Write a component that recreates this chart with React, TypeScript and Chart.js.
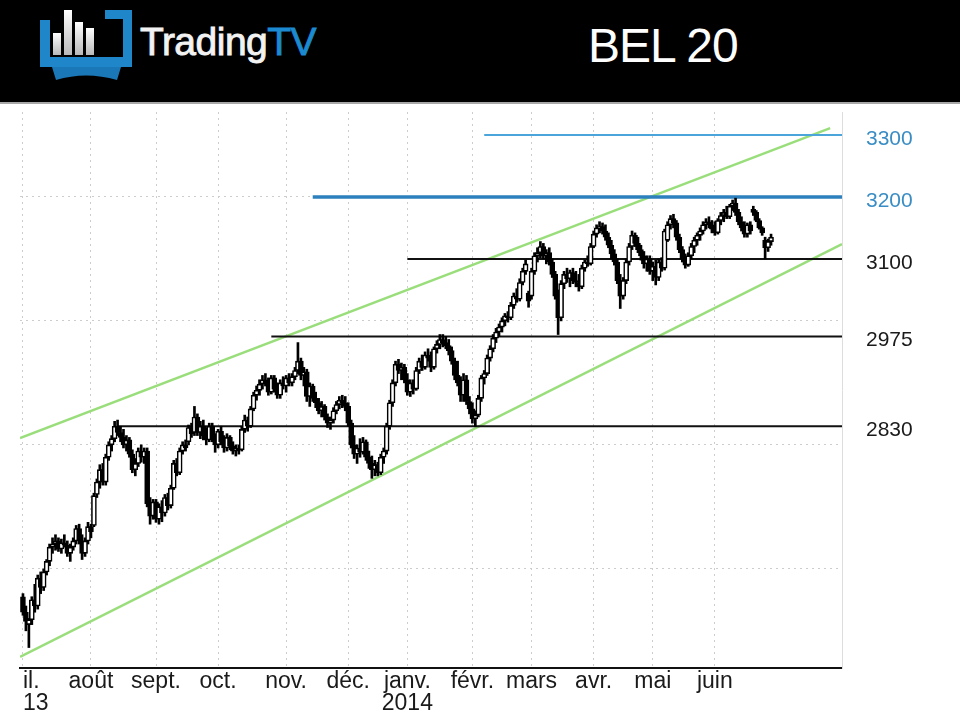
import React, { useEffect, useRef } from "react";
import { Chart, registerables } from "chart.js";

Chart.register(...registerables);

// ---- data ----
// trading-day index of each month start (July 2013 -> June 2014)
const monthTicks = [0, 23, 45, 66, 89, 110, 130, 152, 172, 193, 213, 234];
const monthLabels: string[][] = [
  ["il.", "13"], ["août"], ["sept."], ["oct."], ["nov."], ["déc."],
  ["janv.", "2014"], ["févr."], ["mars"], ["avr."], ["mai"], ["juin"],
];
const priceLabels = [2830, 2975, 3100, 3200, 3300];
const gridValues = [2600, 2800, 3000, 3200];

// horizontal levels and the trading-day index where each starts
const levelValues = [3300, 3200, 3100, 2975, 2830];
const levelStarts = [156, 98, 130, 84, 32];

// channel lines: [dayIndex, value]
const upperChannel: [number, number][] = [[-1, 2811], [273, 3311]];
const lowerChannel: [number, number][] = [[-1, 2458], [277, 3124]];

// daily candles [open, high, low, close]
const ohlc: [number, number, number, number][] = [
  [2555, 2560, 2525, 2530], [2530, 2540, 2500, 2515], [2510, 2520, 2473, 2518], [2518, 2555, 2510, 2550],
  [2550, 2575, 2530, 2540], [2540, 2590, 2535, 2585], [2585, 2595, 2560, 2570], [2570, 2600, 2565, 2595],
  [2595, 2615, 2590, 2612], [2612, 2640, 2605, 2635], [2635, 2650, 2625, 2640], [2640, 2655, 2630, 2645],
  [2645, 2650, 2628, 2632], [2632, 2648, 2625, 2642], [2642, 2655, 2635, 2638], [2638, 2645, 2620, 2625],
  [2625, 2640, 2612, 2635], [2635, 2650, 2630, 2645], [2645, 2670, 2640, 2665], [2665, 2672, 2640, 2645],
  [2645, 2655, 2615, 2625], [2625, 2650, 2620, 2645], [2645, 2675, 2640, 2668], [2668, 2672, 2650, 2660],
  [2670, 2722, 2668, 2718], [2720, 2745, 2715, 2740], [2740, 2768, 2730, 2760], [2760, 2770, 2735, 2740],
  [2740, 2785, 2735, 2780], [2780, 2805, 2775, 2800], [2800, 2815, 2790, 2810], [2810, 2838, 2805, 2830],
  [2830, 2840, 2815, 2820], [2820, 2830, 2805, 2812], [2812, 2825, 2795, 2800], [2800, 2815, 2790, 2808],
  [2808, 2812, 2780, 2785], [2785, 2792, 2755, 2760], [2760, 2778, 2750, 2770], [2770, 2795, 2765, 2790],
  [2790, 2800, 2772, 2780], [2780, 2795, 2770, 2790], [2790, 2795, 2700, 2705], [2705, 2715, 2672, 2685],
  [2685, 2712, 2680, 2708], [2708, 2712, 2675, 2680], [2680, 2705, 2672, 2700], [2700, 2710, 2676, 2690],
  [2690, 2720, 2685, 2715], [2715, 2722, 2695, 2702], [2702, 2735, 2698, 2730], [2730, 2775, 2728, 2770],
  [2770, 2778, 2750, 2755], [2755, 2795, 2752, 2790], [2790, 2805, 2785, 2800], [2800, 2808, 2790, 2795],
  [2805, 2832, 2800, 2828], [2828, 2835, 2812, 2818], [2820, 2862, 2815, 2845], [2845, 2850, 2815, 2820],
  [2820, 2838, 2810, 2830], [2830, 2840, 2808, 2815], [2815, 2828, 2800, 2808], [2808, 2835, 2805, 2830],
  [2830, 2835, 2805, 2810], [2810, 2818, 2788, 2800], [2800, 2825, 2795, 2822], [2822, 2830, 2800, 2805],
  [2805, 2815, 2788, 2795], [2795, 2818, 2790, 2812], [2812, 2815, 2792, 2798], [2798, 2805, 2785, 2790],
  [2790, 2800, 2782, 2795], [2795, 2800, 2785, 2792], [2792, 2830, 2790, 2825], [2825, 2848, 2820, 2840],
  [2840, 2845, 2822, 2830], [2830, 2862, 2828, 2858], [2858, 2885, 2855, 2880], [2880, 2895, 2872, 2888],
  [2888, 2905, 2880, 2898], [2898, 2912, 2890, 2905], [2905, 2915, 2895, 2900], [2900, 2908, 2880, 2885],
  [2885, 2912, 2882, 2908], [2908, 2912, 2885, 2890], [2890, 2900, 2875, 2880], [2880, 2905, 2875, 2900],
  [2900, 2910, 2890, 2895], [2895, 2912, 2885, 2908], [2908, 2915, 2895, 2900], [2900, 2915, 2895, 2910],
  [2910, 2925, 2905, 2920], [2920, 2965, 2915, 2935], [2935, 2940, 2905, 2912], [2912, 2925, 2895, 2918],
  [2918, 2922, 2870, 2878], [2878, 2900, 2862, 2895], [2895, 2898, 2870, 2875], [2875, 2885, 2860, 2868],
  [2868, 2875, 2850, 2855], [2855, 2870, 2845, 2862], [2862, 2865, 2840, 2845], [2845, 2850, 2828, 2835],
  [2835, 2845, 2825, 2840], [2840, 2860, 2835, 2855], [2855, 2870, 2850, 2865], [2865, 2878, 2858, 2872],
  [2872, 2880, 2860, 2868], [2868, 2878, 2855, 2862], [2862, 2868, 2830, 2835], [2835, 2840, 2795, 2800],
  [2800, 2815, 2778, 2785], [2785, 2800, 2770, 2795], [2795, 2810, 2780, 2788], [2788, 2812, 2785, 2805],
  [2805, 2808, 2775, 2780], [2780, 2790, 2762, 2770], [2770, 2782, 2746, 2760], [2760, 2775, 2750, 2768],
  [2768, 2772, 2750, 2755], [2755, 2785, 2752, 2780], [2780, 2795, 2770, 2790], [2790, 2835, 2785, 2830],
  [2830, 2872, 2825, 2868], [2868, 2905, 2862, 2900], [2900, 2935, 2895, 2930], [2930, 2938, 2915, 2920],
  [2920, 2932, 2905, 2925], [2925, 2930, 2900, 2905], [2905, 2915, 2880, 2885], [2885, 2905, 2878, 2900],
  [2900, 2905, 2882, 2890], [2890, 2925, 2888, 2920], [2920, 2940, 2915, 2935], [2935, 2945, 2920, 2925],
  [2925, 2950, 2922, 2945], [2945, 2955, 2935, 2940], [2945, 2950, 2918, 2925], [2925, 2958, 2922, 2955],
  [2955, 2968, 2948, 2962], [2962, 2978, 2955, 2970], [2970, 2978, 2958, 2965], [2965, 2975, 2955, 2960],
  [2960, 2970, 2945, 2952], [2952, 2958, 2930, 2935], [2935, 2940, 2905, 2912], [2912, 2935, 2895, 2900],
  [2900, 2910, 2870, 2880], [2880, 2915, 2870, 2905], [2905, 2912, 2865, 2870], [2870, 2878, 2850, 2858],
  [2858, 2868, 2835, 2842], [2842, 2855, 2830, 2848], [2848, 2880, 2845, 2875], [2875, 2912, 2870, 2908],
  [2908, 2920, 2898, 2915], [2915, 2945, 2912, 2940], [2940, 2960, 2935, 2955], [2955, 2978, 2950, 2972],
  [2972, 2988, 2965, 2982], [2982, 2995, 2975, 2990], [2990, 3005, 2982, 3000], [3000, 3012, 2992, 3008],
  [3008, 3015, 2998, 3005], [3005, 3030, 3002, 3025], [3025, 3045, 3020, 3040], [3040, 3052, 3030, 3035],
  [3035, 3068, 3032, 3062], [3062, 3085, 3058, 3080], [3080, 3098, 3075, 3092], [3045, 3048, 3022, 3032],
  [3040, 3085, 3035, 3080], [3080, 3110, 3075, 3105], [3105, 3118, 3095, 3110], [3110, 3128, 3102, 3120],
  [3120, 3125, 3100, 3105], [3105, 3115, 3092, 3110], [3110, 3118, 3090, 3095], [3095, 3100, 3070, 3075],
  [3075, 3080, 3035, 3040], [3040, 3050, 2978, 3005], [3005, 3065, 3000, 3060], [3060, 3080, 3052, 3075],
  [3075, 3085, 3062, 3068], [3068, 3082, 3055, 3078], [3078, 3085, 3060, 3065], [3065, 3080, 3055, 3062],
  [3062, 3075, 3048, 3055], [3055, 3090, 3052, 3085], [3085, 3098, 3080, 3095], [3095, 3105, 3088, 3092],
  [3092, 3125, 3090, 3120], [3120, 3145, 3118, 3140], [3140, 3155, 3135, 3150], [3150, 3160, 3142, 3152],
  [3152, 3158, 3140, 3145], [3145, 3155, 3130, 3135], [3135, 3142, 3118, 3122], [3122, 3130, 3100, 3108],
  [3108, 3115, 3090, 3095], [3095, 3100, 3060, 3065], [3065, 3075, 3020, 3040], [3040, 3070, 3035, 3065],
  [3065, 3100, 3060, 3095], [3095, 3125, 3090, 3120], [3120, 3145, 3115, 3138], [3138, 3142, 3120, 3125],
  [3125, 3135, 3110, 3115], [3115, 3122, 3098, 3105], [3105, 3112, 3085, 3092], [3092, 3105, 3080, 3100],
  [3100, 3105, 3075, 3080], [3080, 3095, 3065, 3088], [3088, 3098, 3058, 3070], [3070, 3100, 3065, 3095],
  [3095, 3102, 3080, 3085], [3085, 3148, 3082, 3145], [3130, 3160, 3128, 3155], [3155, 3170, 3148, 3165],
  [3165, 3172, 3150, 3158], [3158, 3162, 3130, 3135], [3135, 3140, 3110, 3115], [3115, 3120, 3095, 3100],
  [3100, 3108, 3085, 3090], [3090, 3110, 3088, 3105], [3105, 3125, 3100, 3120], [3120, 3135, 3110, 3130],
  [3130, 3142, 3122, 3138], [3138, 3150, 3130, 3145], [3145, 3160, 3140, 3155], [3155, 3165, 3148, 3160],
  [3160, 3168, 3150, 3155], [3155, 3162, 3142, 3148], [3148, 3160, 3138, 3142], [3142, 3165, 3140, 3162],
  [3162, 3175, 3155, 3170], [3170, 3180, 3160, 3175], [3175, 3185, 3165, 3168], [3168, 3188, 3165, 3185],
  [3185, 3195, 3178, 3190], [3190, 3198, 3170, 3175], [3175, 3180, 3155, 3160], [3160, 3168, 3145, 3150],
  [3150, 3160, 3135, 3140], [3140, 3158, 3135, 3155], [3155, 3160, 3140, 3145], [3180, 3185, 3170, 3175],
  [3175, 3178, 3160, 3162], [3162, 3165, 3148, 3150], [3150, 3152, 3138, 3142], [3130, 3135, 3100, 3118],
  [3118, 3132, 3112, 3128], [3128, 3140, 3122, 3135],
];

// ---- styles ----
const FONT = "'Liberation Sans', Arial, Helvetica, sans-serif";
const X_MIN = -1;
const X_MAX = 277;
const Y_MIN = 2440;
const Y_MAX = 3337;
const levelColors = ["#4ba4da", "#2c80bd", "#111111", "#111111", "#111111"];
const levelWidths = [2, 3.5, 2, 2, 2];
const channelColor = "#9ade7c";

function Logo() {
  return (
    <svg width={140} height={100} style={{ position: "absolute", left: 0, top: 0 }}>
      <defs>
        <linearGradient id="barg" x1="0" y1="0" x2="0" y2="1">
          <stop offset="0" stopColor="#ffffff" />
          <stop offset="1" stopColor="#b9b9b9" />
        </linearGradient>
      </defs>
      <path d="M40 20 H50 V57 H123 V19 H105 V10 H132 V67 H40 Z" fill="#1f86c9" />
      <path d="M52 67 H121 L117 80 Q86 71 56 80 Z" fill="#1a78b8" />
      <rect x={53} y={33} width={8} height={22} fill="url(#barg)" />
      <rect x={64} y={10} width={8} height={45} fill="url(#barg)" />
      <rect x={75} y={22} width={8} height={33} fill="url(#barg)" />
      <rect x={86} y={28} width={8} height={27} fill="url(#barg)" />
    </svg>
  );
}

export default function App() {
  const canvasRef = useRef<HTMLCanvasElement | null>(null);

  useEffect(() => {
    const canvas = canvasRef.current;
    if (!canvas) return;
    Chart.defaults.font.family = FONT;

    const bodies = ohlc.map((d, i) => ({ x: i, y: [d[0], d[3]] }));
    const wicks = ohlc.map((d, i) => ({ x: i, y: [d[2], d[1]] }));
    const bodyFill = ohlc.map((d) => (d[3] >= d[0] ? "#ffffff" : "#000000"));

    const levelSets = levelValues.map((v, k) => ({
      type: "line" as const,
      data: [
        { x: levelStarts[k], y: v },
        { x: X_MAX, y: v },
      ],
      borderColor: levelColors[k],
      borderWidth: levelWidths[k],
      pointRadius: 0,
      order: 3,
    }));

    const channelSets = [upperChannel, lowerChannel].map((pts) => ({
      type: "line" as const,
      data: pts.map((p) => ({ x: p[0], y: p[1] })),
      borderColor: channelColor,
      borderWidth: 2.5,
      pointRadius: 0,
      order: 4,
    }));

    const allY = Array.from(new Set([...gridValues, ...priceLabels])).sort((a, b) => a - b);

    const chart = new Chart(canvas, {
      type: "bar",
      data: {
        datasets: [
          {
            type: "bar",
            data: bodies as any,
            backgroundColor: bodyFill,
            borderColor: "#000000",
            borderWidth: 1.6,
            borderSkipped: false,
            barThickness: 5,
            grouped: false,
            order: 1,
          } as any,
          {
            type: "bar",
            data: wicks as any,
            backgroundColor: "#000000",
            borderWidth: 0,
            barThickness: 2,
            grouped: false,
            order: 2,
          } as any,
          ...levelSets,
          ...channelSets,
        ],
      },
      options: {
        animation: false,
        responsive: false,
        maintainAspectRatio: false,
        layout: { padding: { left: 20, top: 7, right: 0, bottom: 0 } },
        plugins: { legend: { display: false }, tooltip: { enabled: false } },
        scales: {
          x: {
            type: "linear",
            min: X_MIN,
            max: X_MAX,
            offset: false,
            afterBuildTicks: (s: any) => {
              s.ticks = [...monthTicks, X_MAX].map((v) => ({ value: v }));
            },
            afterFit: (s: any) => {
              s.height = 52;
              s.paddingLeft = 0;
              s.paddingRight = 0;
            },
            grid: {
              offset: false,
              color: (c: any) => (c.tick && c.tick.value < X_MAX ? "#cdcdcd" : "rgba(0,0,0,0)"),
              drawTicks: false,
              lineWidth: 1,
            },
            border: { display: true, color: "#111111", width: 2, dash: [2, 4] },
            ticks: {
              autoSkip: false,
              maxRotation: 0,
              minRotation: 0,
              align: "inner",
              padding: 2,
              color: "#1a1a1a",
              font: { family: FONT, size: 23, lineHeight: 0.98 },
              callback: (v: any) => {
                const k = monthTicks.indexOf(Number(v));
                return k >= 0 ? monthLabels[k] : "";
              },
            },
          },
          y: {
            type: "linear",
            position: "right",
            min: Y_MIN,
            max: Y_MAX,
            afterBuildTicks: (s: any) => {
              s.ticks = allY.map((v) => ({ value: v }));
            },
            afterFit: (s: any) => {
              s.width = 118;
              s.paddingTop = 0;
              s.paddingBottom = 0;
            },
            grid: {
              offset: false,
              color: (c: any) => (c.tick && gridValues.includes(c.tick.value) ? "#cdcdcd" : "rgba(0,0,0,0)"),
              drawTicks: false,
              lineWidth: 1,
            },
            border: { display: true, color: "#dddddd", width: 1, dash: [2, 4] },
            ticks: {
              autoSkip: false,
              padding: 24,
              labelOffset: 4,
              color: (c: any) => (c.tick && c.tick.value >= 3200 ? "#3a8dc4" : "#1a1a1a"),
              font: { family: FONT, size: 21 },
              callback: (v: any) => (priceLabels.includes(Number(v)) ? String(v) : ""),
            },
          },
        },
      } as any,
    });

    return () => chart.destroy();
  }, []);

  return (
    <div
      style={{
        position: "fixed",
        left: 0,
        top: 0,
        width: 960,
        height: 720,
        background: "#ffffff",
        overflow: "hidden",
      }}
    >
      <div
        style={{
          position: "absolute",
          left: 0,
          top: 0,
          width: 960,
          height: 102,
          background: "#000000",
          borderBottom: "2px solid #a8a8a8",
        }}
      >
        <Logo />
        <div
          style={{
            position: "absolute",
            left: 140,
            top: 22,
            fontFamily: FONT,
            fontSize: 39,
            lineHeight: "39px",
            whiteSpace: "nowrap",
            letterSpacing: -0.5,
          }}
        >
          <span style={{ color: "#f2f2f2", WebkitTextStroke: "0.9px #f2f2f2" }}>Trading</span>
          <span style={{ color: "#1c8ad0", WebkitTextStroke: "0.9px #1c8ad0" }}>TV</span>
        </div>
        <div
          style={{
            position: "absolute",
            left: 588,
            top: 22,
            fontFamily: FONT,
            fontSize: 48,
            lineHeight: "48px",
            color: "#ffffff",
            letterSpacing: -1,
            whiteSpace: "nowrap",
          }}
        >
          BEL 20
        </div>
      </div>
      <canvas
        ref={canvasRef}
        width={960}
        height={615}
        style={{ position: "absolute", left: 0, top: 105, width: 960, height: 615 }}
      />
    </div>
  );
}
